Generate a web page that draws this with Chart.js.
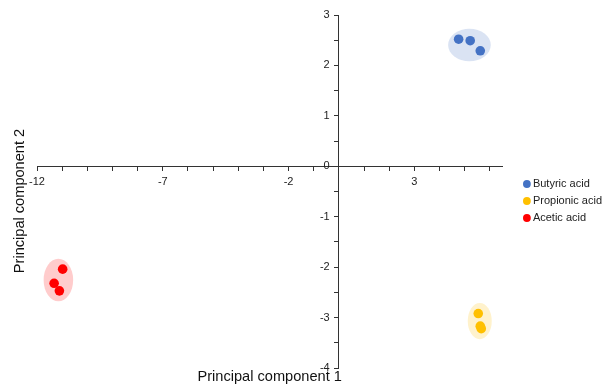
<!DOCTYPE html>
<html><head><meta charset="utf-8">
<script src="https://cdn.jsdelivr.net/npm/chart.js@4.4.1/dist/chart.umd.min.js"></script>
<style>html,body{margin:0;padding:0;background:#fff;} #wrap{width:605px;height:387px;position:relative;}</style>
</head><body><div id="wrap"><canvas id="c"></canvas></div>
<script>
const seriesNames = ['Butyric acid', 'Propionic acid', 'Acetic acid'];
const butyricX = [4.76, 5.22, 5.62];
const butyricY = [2.52, 2.49, 2.29];
const propionicX = [5.54, 5.62, 5.66];
const propionicY = [-2.92, -3.17, -3.22];
const aceticX = [-10.98, -11.32, -11.11];
const aceticY = [-2.04, -2.32, -2.47];
const xMin = -12, xMax = 6.5, yMin = -4, yMax = 3;
const xLabelTicks = [-12, -7, -2, 3];
const yLabelTicks = [-4, -3, -2, -1, 0, 1, 2, 3];
const pointColors = ['#4472C4', '#FFC000', '#FF0000'];
const haloColors = ['rgba(68,114,196,0.2)', 'rgba(255,192,0,0.2)', 'rgba(255,0,0,0.2)'];

const toPts = (xs, ys) => xs.map((v, i) => ({x: v, y: ys[i]}));
const allX = [butyricX, propionicX, aceticX];
const allY = [butyricY, propionicY, aceticY];

const ellipsePlugin = {
  id: 'clusterEllipses',
  beforeDatasetsDraw(chart) {
    const {ctx, scales: {x, y}} = chart;
    chart.data.datasets.forEach((ds, i) => {
      if (!chart.isDatasetVisible(i)) return;
      const px = ds.data.map(p => x.getPixelForValue(p.x));
      const py = ds.data.map(p => y.getPixelForValue(p.y));
      const x0 = Math.min(...px), x1 = Math.max(...px);
      const y0 = Math.min(...py), y1 = Math.max(...py);
      ctx.save();
      ctx.fillStyle = haloColors[i];
      ctx.beginPath();
      ctx.ellipse((x0 + x1) / 2, (y0 + y1) / 2, (x1 - x0) / 2 + 10.5, (y1 - y0) / 2 + 10.5, 0, 0, Math.PI * 2);
      ctx.fill();
      ctx.restore();
    });
  }
};

const FONT = 'Liberation Sans, Arial, sans-serif';
const axisColor = '#333';

new Chart(document.getElementById('c'), {
  type: 'scatter',
  data: {
    datasets: seriesNames.map((n, i) => ({
      label: n,
      data: toPts(allX[i], allY[i]),
      backgroundColor: pointColors[i],
      borderColor: pointColors[i],
      borderWidth: 0,
      pointRadius: 4.8,
      pointHoverRadius: 4.8,
      pointStyle: 'circle'
    }))
  },
  options: {
    responsive: true,
    maintainAspectRatio: false,
    devicePixelRatio: 1,
    animation: false,
    layout: {padding: {top: 15, right: -7, bottom: 0, left: 0}},
    scales: {
      x: {
        type: 'linear', position: {y: 0}, min: xMin, max: xMax,
        afterFit(s) { s.height = 0; },
        grid: {display: true, drawOnChartArea: false, drawTicks: true, tickLength: 4, color: axisColor},
        border: {display: true, color: axisColor, width: 1},
        ticks: {
          stepSize: 1, includeBounds: false, autoSkip: false, maxRotation: 0, padding: 5,
          color: '#222', font: {family: FONT, size: 11},
          callback: v => xLabelTicks.includes(v) ? String(v) : ''
        }
      },
      y: {
        type: 'linear', position: {x: 0}, min: yMin, max: yMax,
        afterFit(s) { s.width = 0; },
        grid: {display: true, drawOnChartArea: false, drawTicks: true, tickLength: 4, color: axisColor},
        border: {display: true, color: axisColor, width: 1},
        ticks: {
          stepSize: 0.5, autoSkip: false, padding: 6,
          color: '#222', font: {family: FONT, size: 11},
          callback: v => yLabelTicks.includes(v) ? String(v) + '   ' : ''
        }
      },
      gap: {
        type: 'linear', position: 'right', axis: 'y', display: true,
        grid: {display: false}, border: {display: false}, ticks: {display: false},
        afterFit(s) { s.width = 18; }
      }
    },
    plugins: {
      legend: {
        position: 'right', align: 'center', maxWidth: 140,
        labels: {usePointStyle: true, pointStyle: 'circle', boxWidth: 1, boxHeight: 5.5, padding: 6,
          color: '#222', font: {family: FONT, size: 11}}
      },
      title: {
        display: true, position: 'bottom', fullSize: false, text: 'Principal component 1',
        color: '#111', font: {family: FONT, size: 14.6, weight: 'normal', lineHeight: 1},
        padding: {top: 2, bottom: 2.4}
      },
      subtitle: {
        display: true, position: 'left', fullSize: true, text: 'Principal component 2',
        color: '#111', font: {family: FONT, size: 14.6, weight: 'normal', lineHeight: 1},
        padding: {top: 13, bottom: 9.4}
      },
      tooltip: {enabled: false}
    }
  },
  plugins: [ellipsePlugin]
});
</script></body></html>
